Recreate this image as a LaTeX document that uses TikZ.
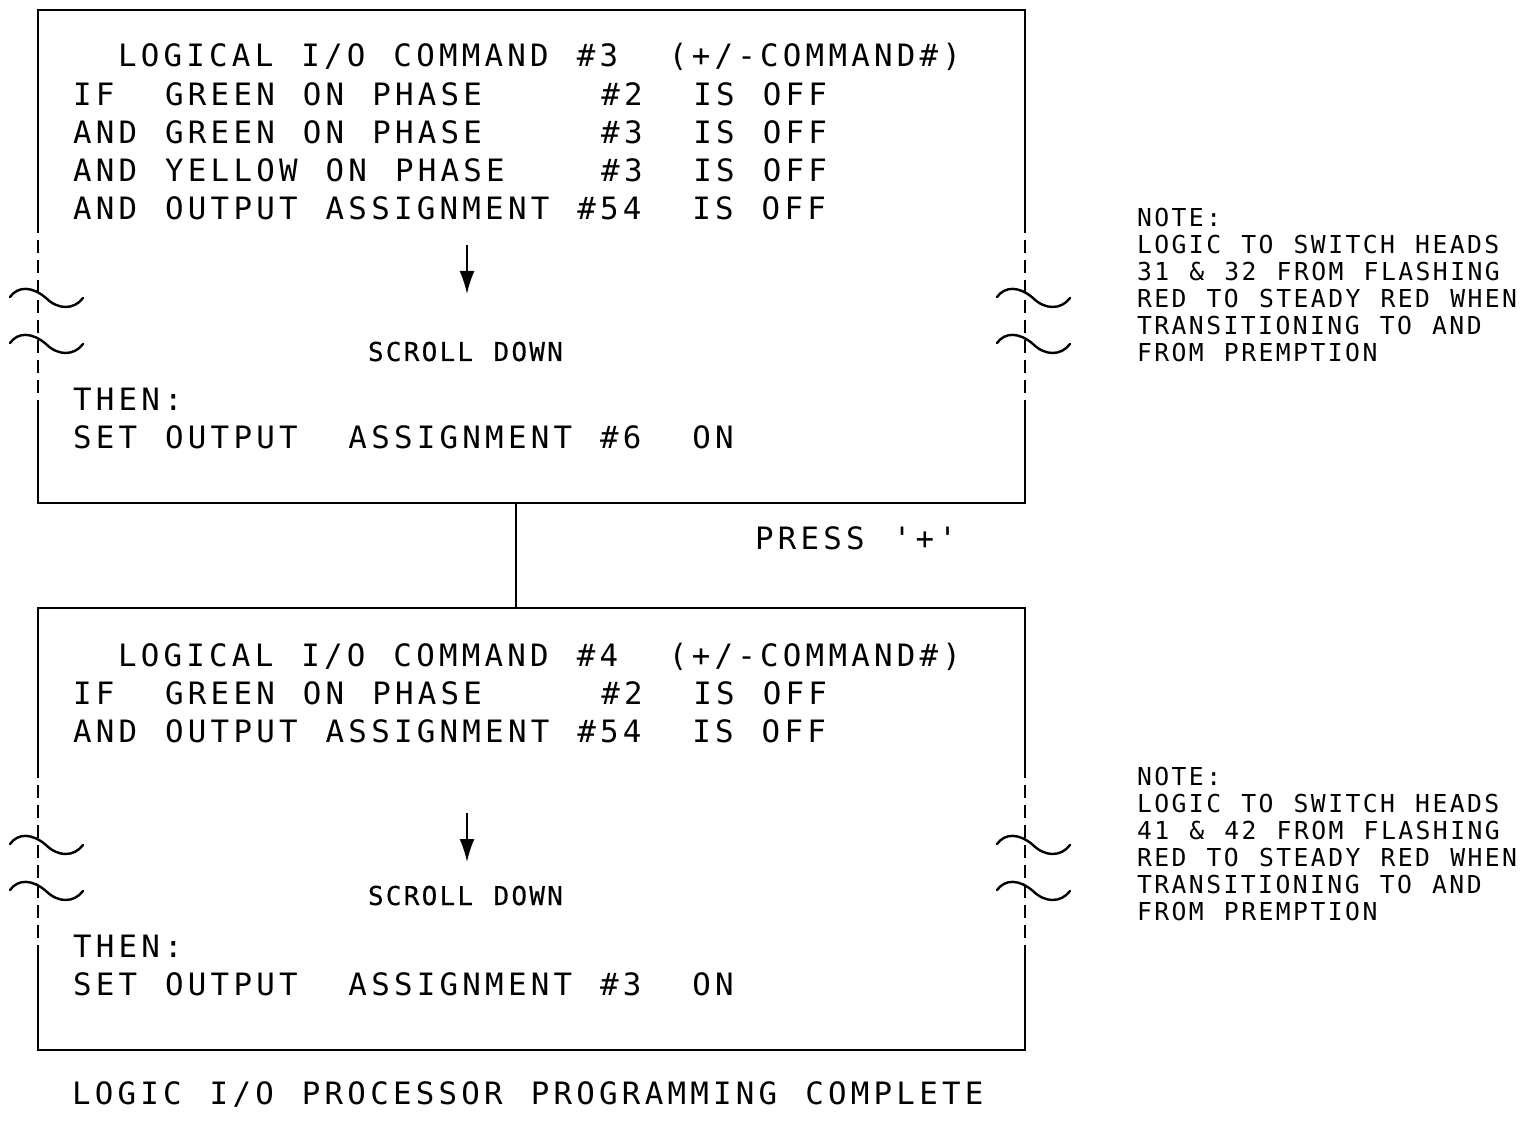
\documentclass[tikz,border=0pt]{standalone}
\usepackage{fontspec}
\usetikzlibrary{arrows.meta,calc}
\newfontfamily\cadmain[LetterSpace=13.8,WordSpace=1.23]{DejaVu Sans Mono}
\newfontfamily\cadsmall[LetterSpace=8.6,WordSpace=1.143,FakeBold=0.4]{DejaVu Sans Mono}
\newfontfamily\cadnote[LetterSpace=9.9,WordSpace=1.164]{DejaVu Sans Mono}
\newcommand\xsp{\hspace{11.4pt}}
\begin{document}
\begin{tikzpicture}[x=0.5pt,y=-0.5pt,
  txt/.style={anchor=base west,inner sep=0pt,outer sep=0pt,font=\cadmain\fontsize{15.4pt}{15.4pt}\selectfont},
  small/.style={txt,font=\cadsmall\fontsize{13pt}{13pt}\selectfont},
  notetxt/.style={txt,font=\cadnote\fontsize{12.35pt}{12.35pt}\selectfont},
  boxarea/.style={draw=none,inner sep=0pt,outer sep=0pt,minimum width=493.5pt,anchor=north west},
  edge/.style={line width=1pt},
  brk/.style={line width=1pt,dash pattern=on 6.5pt off 3.5pt},
  wave/.style={line width=1.2pt,line cap=round},
  downarrow/.style={line width=1pt,-{Latex[length=11.5pt,width=7.5pt]}},
  wavy/.pic={\draw[wave] (-36,-1) .. controls (-28,-12) and (-14,-12) .. (0,0) .. controls (12,12) and (28,12) .. (37,0);}
]
\useasboundingbox (0,0) rectangle (1535,1122);
\fill[white] (0,0) rectangle (1535,1122);

% ---------- top box ----------
\node[boxarea,minimum height=246.5pt] (box1) at (38,10) {};
\draw[edge] (38,220) -- (38,10) -- (1025,10) -- (1025,220);
\draw[brk] (38,220) -- (38,408);
\draw[brk] (1025,220) -- (1025,408);
\draw[edge] (38,408) -- (38,503) -- (1025,503) -- (1025,408);
\pic at (46,298) {wavy};
\pic at (46,344) {wavy};
\pic at (1033,298) {wavy};
\pic at (1033,344) {wavy};

\node[txt] (t1) at (118,67) {LOGICAL I/O COMMAND \#3 \xsp(+/-COMMAND\#)};
\node[txt] (t2) at (73,106) {IF \xsp GREEN ON PHASE \xsp\xsp\xsp\xsp\#2 \xsp IS OFF};
\node[txt] (t3) at (73,144) {AND GREEN ON PHASE \xsp\xsp\xsp\xsp\#3 \xsp IS OFF};
\node[txt] (t4) at (73,182) {AND YELLOW ON PHASE \xsp\xsp\xsp\#3 \xsp IS OFF};
\node[txt] (t5) at (73,220) {AND OUTPUT ASSIGNMENT \#54 \xsp IS OFF};
\coordinate (a1s) at (467,245);
\coordinate (a1e) at (467,294);
\draw[downarrow] (a1s) -- (a1e);
\node[small] (s1) at (368,361) {SCROLL DOWN};
\node[txt] (t6) at (73,411) {THEN:};
\node[txt] (t7) at (73,449) {SET OUTPUT \xsp ASSIGNMENT \#6 \xsp ON};

% ---------- connector ----------
\node[txt] (press) at (755,549) {PRESS '+'};

% ---------- bottom box ----------
\node[boxarea,minimum height=221pt] (box2) at (38,608) {};
\draw[edge] ($(box1.south west)!0.4843!(box1.south east)$) -- ($(box2.north west)!0.4843!(box2.north east)$);
\draw[edge] (38,765) -- (38,608) -- (1025,608) -- (1025,765);
\draw[brk] (38,765) -- (38,953);
\draw[brk] (1025,765) -- (1025,953);
\draw[edge] (38,953) -- (38,1050) -- (1025,1050) -- (1025,953);
\pic at (46,845) {wavy};
\pic at (46,891) {wavy};
\pic at (1033,845) {wavy};
\pic at (1033,891) {wavy};

\node[txt] (b1) at (118,666) {LOGICAL I/O COMMAND \#4 \xsp(+/-COMMAND\#)};
\node[txt] (b2) at (73,704) {IF \xsp GREEN ON PHASE \xsp\xsp\xsp\xsp\#2 \xsp IS OFF};
\node[txt] (b3) at (73,742) {AND OUTPUT ASSIGNMENT \#54 \xsp IS OFF};
\coordinate (a2s) at (467,813);
\coordinate (a2e) at (467,862);
\draw[downarrow] (a2s) -- (a2e);
\node[small] (s2) at (368,905) {SCROLL DOWN};
\node[txt] (b6) at (73,957) {THEN:};
\node[txt] (b7) at (73,995) {SET OUTPUT \xsp ASSIGNMENT \#3 \xsp ON};

\node[txt] (cap) at (72,1104) {LOGIC I/O PROCESSOR PROGRAMMING COMPLETE};

% ---------- notes ----------
\node[notetxt] (n1a) at (1137,227) {NOTE:};
\node[notetxt] (n1b) at (1137,254) {LOGIC TO SWITCH HEADS};
\node[notetxt] (n1c) at (1137,281) {31 \& 32 FROM FLASHING};
\node[notetxt] (n1d) at (1137,308) {RED TO STEADY RED WHEN};
\node[notetxt] (n1e) at (1137,335) {TRANSITIONING TO AND};
\node[notetxt] (n1f) at (1137,362) {FROM PREMPTION};

\node[notetxt] (n2a) at (1137,785) {NOTE:};
\node[notetxt] (n2b) at (1137,812) {LOGIC TO SWITCH HEADS};
\node[notetxt] (n2c) at (1137,839) {41 \& 42 FROM FLASHING};
\node[notetxt] (n2d) at (1137,866) {RED TO STEADY RED WHEN};
\node[notetxt] (n2e) at (1137,893) {TRANSITIONING TO AND};
\node[notetxt] (n2f) at (1137,920) {FROM PREMPTION};
\end{tikzpicture}
\end{document}
